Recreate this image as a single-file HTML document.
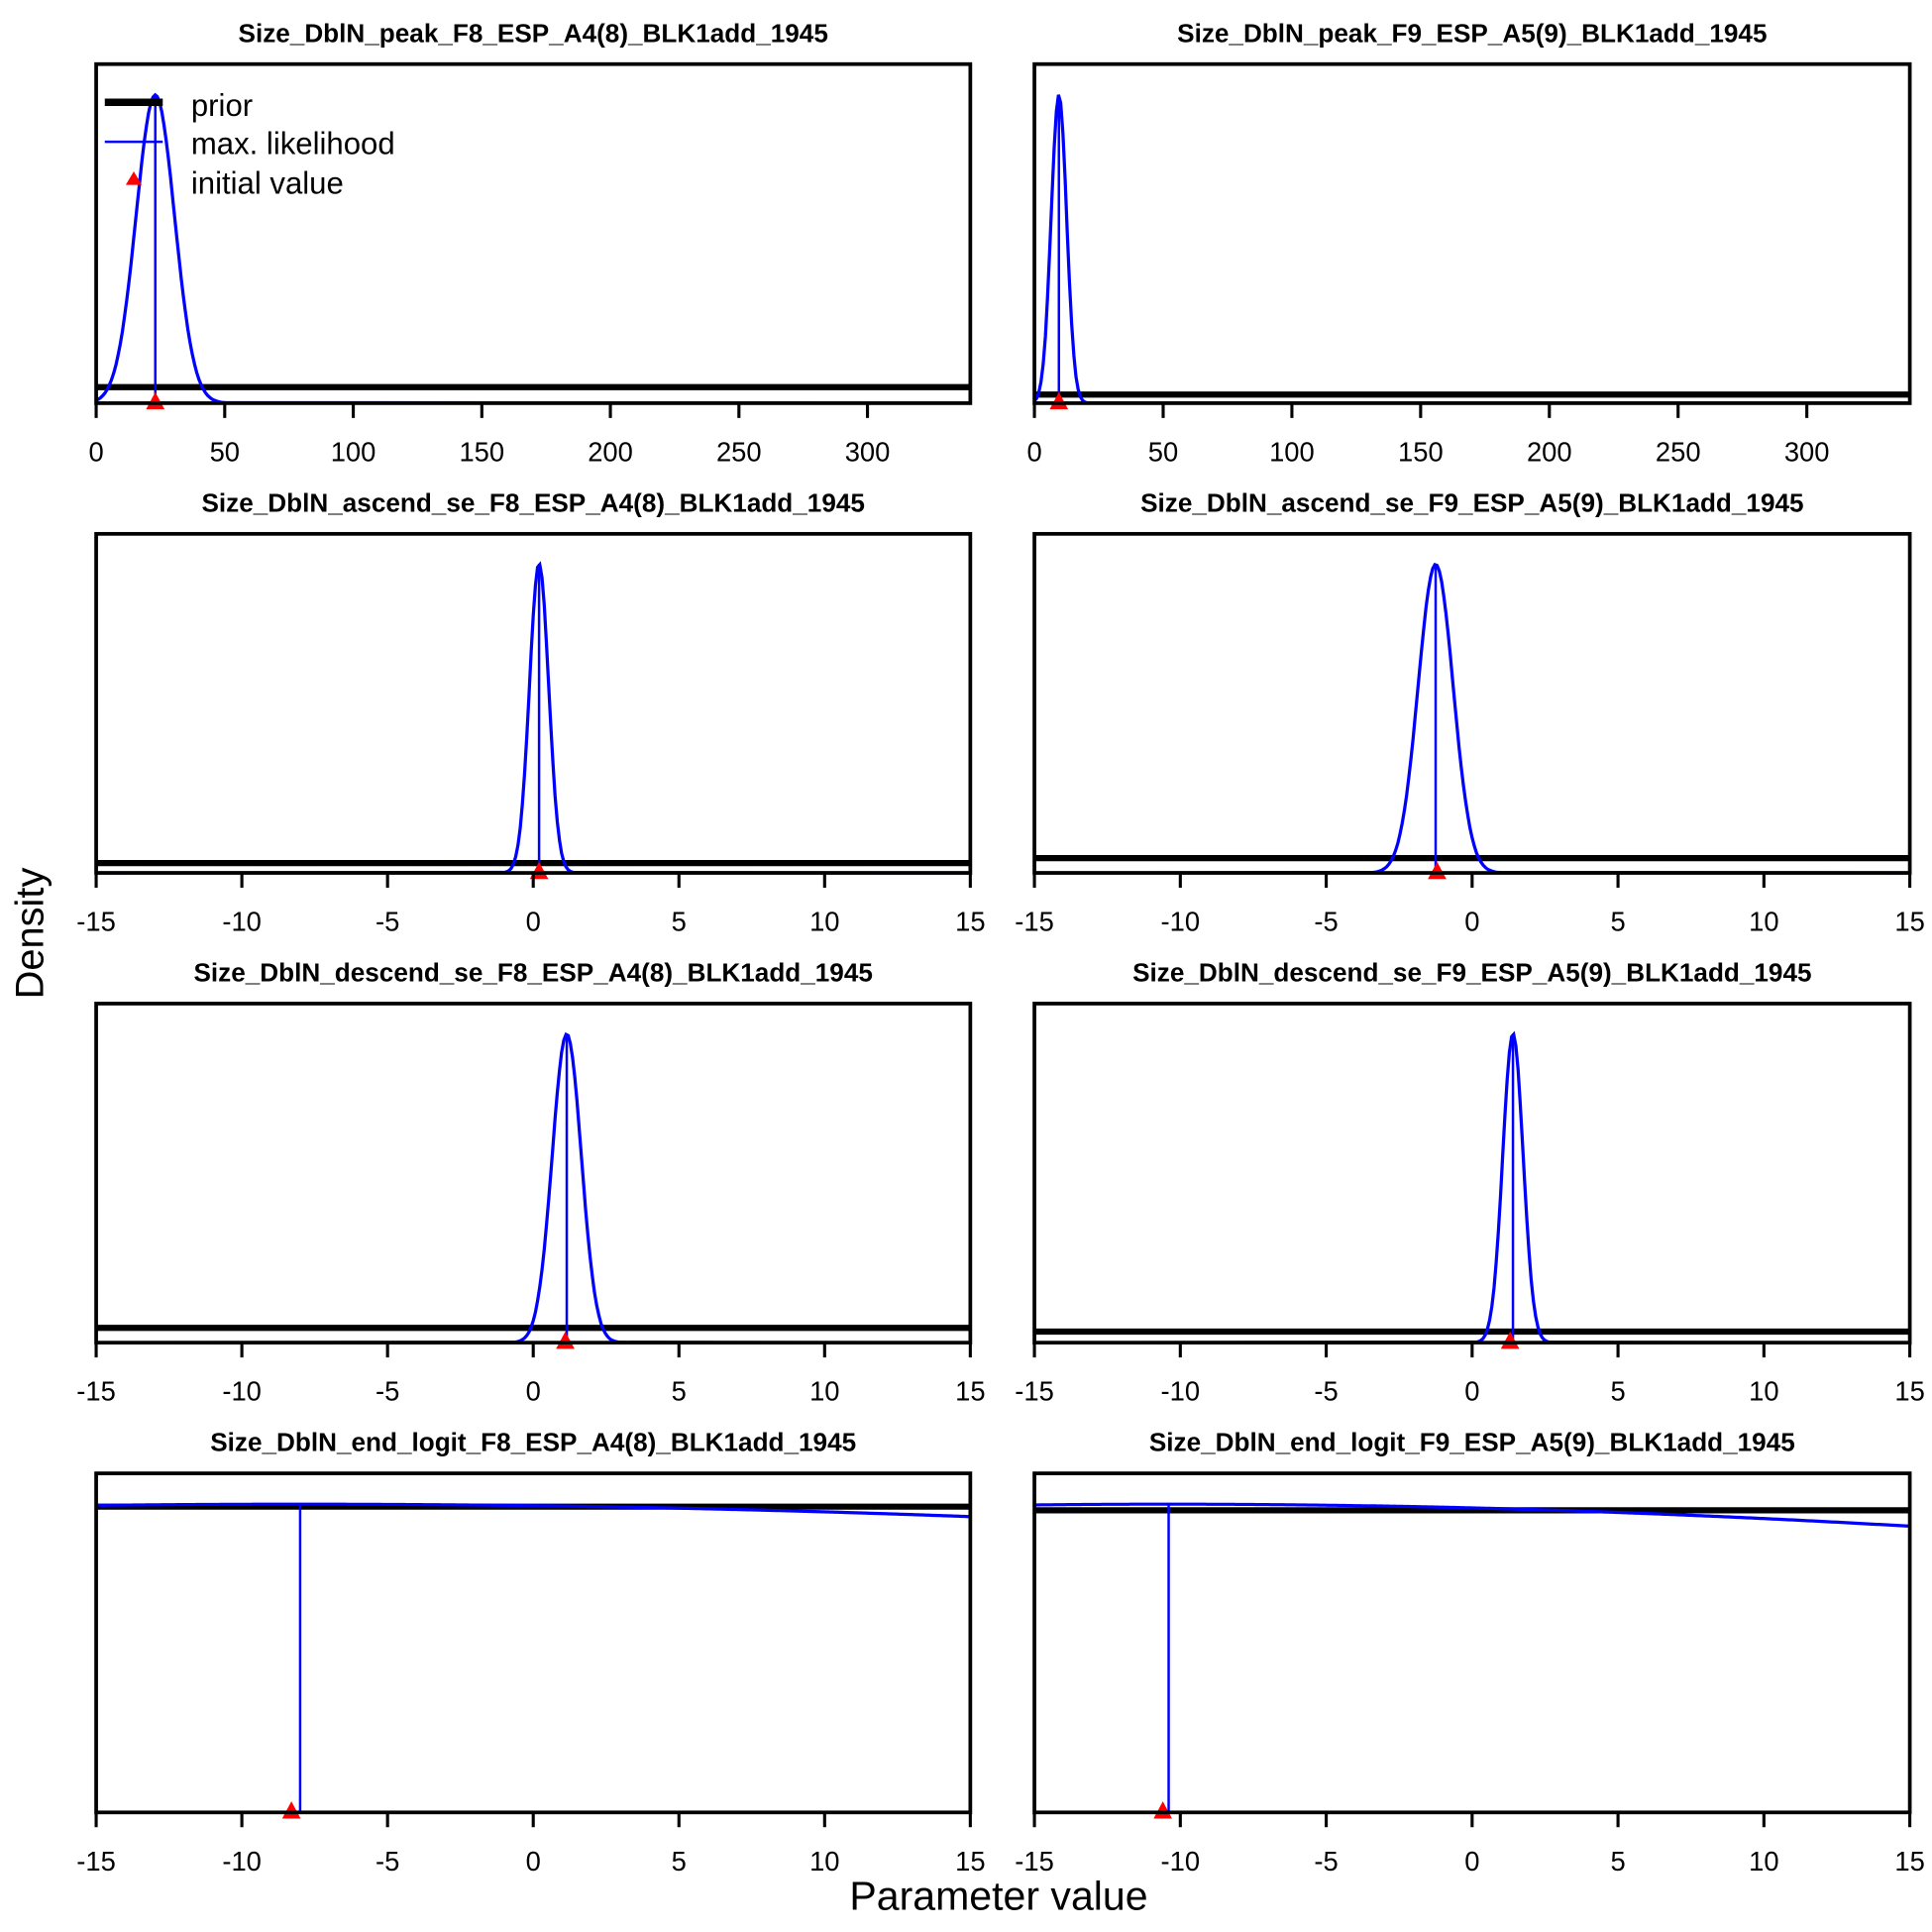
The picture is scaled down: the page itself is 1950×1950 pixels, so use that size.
<!DOCTYPE html>
<html><head><meta charset="utf-8">
<style>html,body{margin:0;padding:0;background:#fff}svg{display:block}text{font-family:"Liberation Sans",Arial,sans-serif}</style>
</head><body>
<svg id="chart" width="1950" height="1950" viewBox="0 0 1567 1567" xmlns="http://www.w3.org/2000/svg">
<text x="35" y="757" font-size="32" text-anchor="middle" transform="rotate(-90 35 757)">Density</text>
<text x="810" y="1549" font-size="33" text-anchor="middle">Parameter value</text>
</svg>
<script>
const titles = ["Size_DblN_peak_F8_ESP_A4(8)_BLK1add_1945","Size_DblN_peak_F9_ESP_A5(9)_BLK1add_1945","Size_DblN_ascend_se_F8_ESP_A4(8)_BLK1add_1945","Size_DblN_ascend_se_F9_ESP_A5(9)_BLK1add_1945","Size_DblN_descend_se_F8_ESP_A4(8)_BLK1add_1945","Size_DblN_descend_se_F9_ESP_A5(9)_BLK1add_1945","Size_DblN_end_logit_F8_ESP_A4(8)_BLK1add_1945","Size_DblN_end_logit_F9_ESP_A5(9)_BLK1add_1945"];
const mlEstimates = [23, 9.5, 0.2, -1.25, 1.15, 1.4, -8, -10.4];
const mlSE = [7.5, 3, 0.33, 0.6, 0.5, 0.35, 80, 66];
const priorLevel = [0.052, 0.028, 0.032, 0.048, 0.048, 0.036, 0.992, 0.98];
const initValues = [23, 9.5, 0.2, -1.2, 1.1, 1.3, -8.3, -10.6];
const xMinArr = [0, 0, -15, -15, -15, -15, -15, -15];
const xMaxArr = [340, 340, 15, 15, 15, 15, 15, 15];
const tickSets = [[0,50,100,150,200,250,300],[0,50,100,150,200,250,300],[-15,-10,-5,0,5,10,15],[-15,-10,-5,0,5,10,15],[-15,-10,-5,0,5,10,15],[-15,-10,-5,0,5,10,15],[-15,-10,-5,0,5,10,15],[-15,-10,-5,0,5,10,15]];

const svg = document.getElementById('chart');
const NS = 'http://www.w3.org/2000/svg';
function mk(tag, attrs, parent){const e=document.createElementNS(NS,tag);for(const k in attrs)e.setAttribute(k,attrs[k]);(parent||svg).appendChild(e);return e;}
const colL=[78,839], colW=[709,710], rowTop=[52,433,814,1195], H=275;

for(let i=0;i<8;i++){
  const c=i%2, r=Math.floor(i/2);
  const L=colL[c], R=L+colW[c], T=rowTop[r], B=T+H;
  const g=mk('g',{});
  
  
  const xs=v=>L+(v-xMinArr[i])/(xMaxArr[i]-xMinArr[i])*(R-L);
  const m=mlEstimates[i], s=mlSE[i];
  const dens=v=>Math.exp(-0.5*((v-m)/s)**2);
  let peak=0; const N=400, pts=[];
  for(let k=0;k<=N;k++){const v=xMinArr[i]+(xMaxArr[i]-xMinArr[i])*k/N;const d=dens(v);pts.push([v,d]);if(d>peak)peak=d;}
  const ys=d=>B-d/peak*(H-25);
  const t=mk('text',{x:(L+R)/2,y:T-18,'font-size':21,'font-weight':'bold','text-anchor':'middle'},g);
  t.textContent=titles[i];
  
  
  const pr=mk('line',{x1:L,x2:R,y1:ys(priorLevel[i]*peak),y2:ys(priorLevel[i]*peak),stroke:'#000','stroke-width':5},g);
  
  
  let d='';pts.forEach((p,k)=>{if(p[1]/peak>0.001||k==0||k==N){d+=(d?'L':'M')+xs(p[0]).toFixed(1)+' '+ys(p[1]).toFixed(1);}});
  const cv=mk('path',{d:d,fill:'none',stroke:'#0000ff','stroke-width':2.6},g);
  
  
  const vl=mk('line',{x1:xs(m),x2:xs(m),y1:B,y2:ys(dens(m)),stroke:'#0000ff','stroke-width':2},g);
  
  
  const ix=xs(initValues[i]);
  const tri=mk('polygon',{points:`${ix-7.5},${B+5} ${ix+7.5},${B+5} ${ix},${B-9}`,fill:'#ff0000'},g);
  
  
  const bx=mk('rect',{x:L,y:T,width:R-L,height:H,fill:'none',stroke:'#000','stroke-width':3},g);
  
  
  tickSets[i].forEach(tv=>{
    const tx=xs(tv);
    const tk=mk('line',{x1:tx,x2:tx,y1:B,y2:B+12,stroke:'#000','stroke-width':2.5},g);
    
    
    const tl=mk('text',{x:tx,y:B+47,'font-size':22,'text-anchor':'middle'},g);
    tl.textContent=tv;
    
    
  });
  if(i===0){
    const lg=mk('g',{},g);
    
    
    mk('line',{x1:85,x2:132,y1:83,y2:83,stroke:'#000','stroke-width':6},lg);
    mk('line',{x1:85,x2:132,y1:115,y2:115,stroke:'#0000ff','stroke-width':2},lg);
    mk('polygon',{points:'102,150 115,150 108.5,139',fill:'#ff0000'},lg);
    [['prior',94],['max. likelihood',125],['initial value',157]].forEach(a=>{
      const lt=mk('text',{x:155,y:a[1],'font-size':25},lg);
      lt.textContent=a[0];
      
      
    });
  }
}
</script>
</body></html>
